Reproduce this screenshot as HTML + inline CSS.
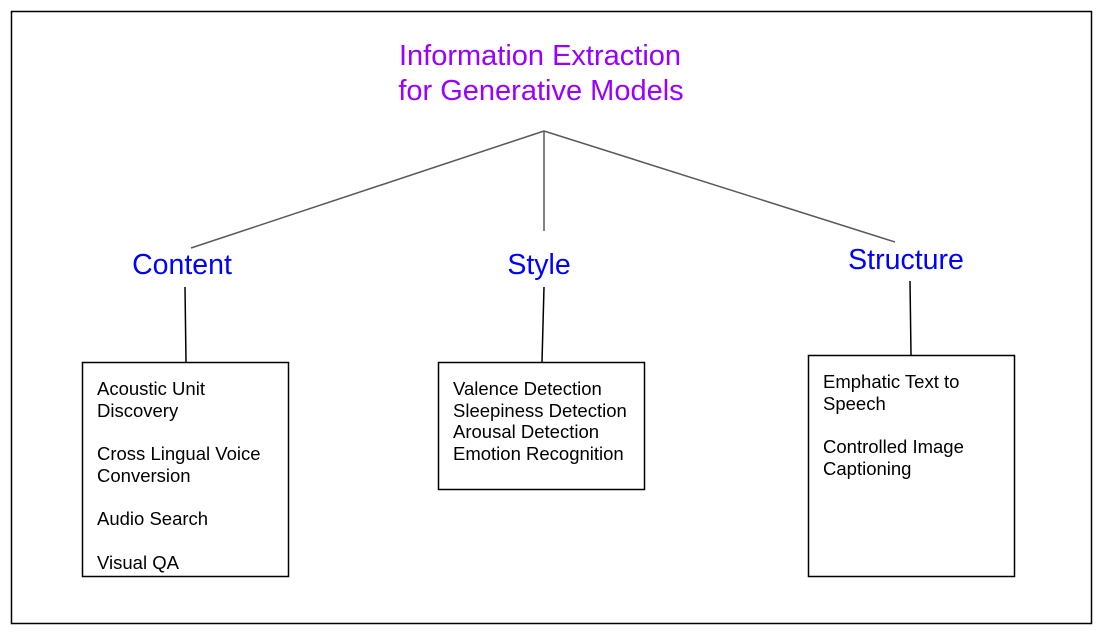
<!DOCTYPE html>
<html><head><meta charset="utf-8"><style>
html,body{margin:0;padding:0;background:#fff;}
svg{display:block;}
text{font-family:"Liberation Sans",Arial,sans-serif;}
</style></head><body>
<svg width="1101" height="633" viewBox="0 0 1101 633" xmlns="http://www.w3.org/2000/svg">
<rect x="11.5" y="11.5" width="1080" height="612" fill="#fff" stroke="#000" stroke-width="1.5"/>
<text x="540" y="65" font-size="29" fill="#9900ff" text-anchor="middle">Information Extraction</text>
<text x="541" y="100" font-size="29" fill="#9900ff" text-anchor="middle">for Generative Models</text>
<g stroke="#595959" stroke-width="1.5" fill="none">
<line x1="544" y1="131" x2="191" y2="248"/>
<line x1="544" y1="131" x2="544" y2="231"/>
<line x1="544" y1="131" x2="895" y2="242"/>
</g>
<text x="182" y="274" font-size="28.5" fill="#0000ff" text-anchor="middle">Content</text>
<text x="539" y="274" font-size="28.5" fill="#0000ff" text-anchor="middle">Style</text>
<text x="906" y="269" font-size="28.5" fill="#0000ff" text-anchor="middle">Structure</text>
<g stroke="#000" stroke-width="1.5" fill="none">
<line x1="185" y1="287" x2="186" y2="362"/>
<line x1="544" y1="287" x2="542" y2="362"/>
<line x1="910" y1="281" x2="911" y2="355"/>
<rect x="82.5" y="362.5" width="206" height="214"/>
<rect x="438.5" y="362.5" width="206" height="127"/>
<rect x="808.5" y="355.5" width="206" height="221"/>
</g>
<g font-size="18.5" fill="#000">
<text x="97" y="395">Acoustic Unit</text>
<text x="97" y="417">Discovery</text>
<text x="97" y="460">Cross Lingual Voice</text>
<text x="97" y="482">Conversion</text>
<text x="97" y="525">Audio Search</text>
<text x="97" y="569">Visual QA</text>
<text x="453" y="395">Valence Detection</text>
<text x="453" y="417">Sleepiness Detection</text>
<text x="453" y="438">Arousal Detection</text>
<text x="453" y="460">Emotion Recognition</text>
<text x="823" y="388">Emphatic Text to</text>
<text x="823" y="410">Speech</text>
<text x="823" y="453">Controlled Image</text>
<text x="823" y="475">Captioning</text>
</g>
</svg>
</body></html>
